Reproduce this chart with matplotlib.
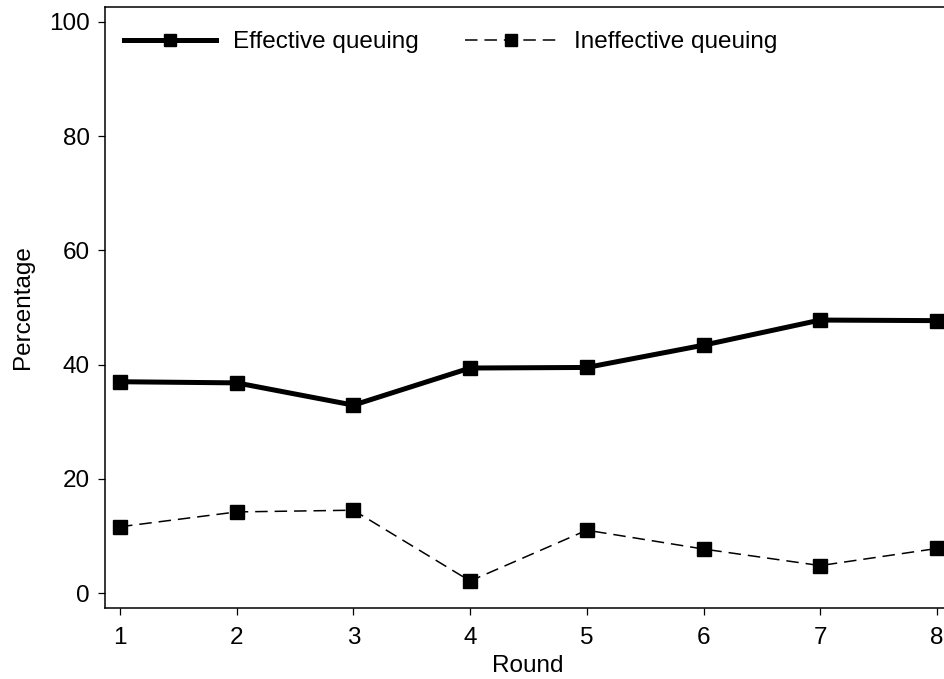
import matplotlib
matplotlib.use("Agg")
import matplotlib.pyplot as plt

plt.rcParams["font.family"] = ["Liberation Sans", "DejaVu Sans"]
plt.rcParams["lines.scale_dashes"] = False

rounds = [1, 2, 3, 4, 5, 6, 7, 8]
effective = [37.0, 36.8, 32.9, 39.4, 39.5, 43.4, 47.8, 47.7]
ineffective = [11.6, 14.2, 14.5, 2.1, 11.0, 7.7, 4.8, 7.8]
yticks = [0, 20, 40, 60, 80, 100]

FS = 17.5
W, H = 944, 679
fig = plt.figure(figsize=(W / 100, H / 100), dpi=100)
# axes run past the right edge, as in the original export
left, right, bottom, top = 105, 951, 608, 7
ax = fig.add_axes([left / W, 1 - bottom / H, (right - left) / W, (bottom - top) / H])

ax.plot(rounds, effective, color="black", lw=3.6, marker="s", ms=10.5,
        label="Effective queuing")
ax.plot(rounds, ineffective, color="black", lw=1.1, linestyle=(0, (9, 5)),
        marker="s", ms=10.5, label="Ineffective queuing")

px_x = 116.7
ax.set_xlim(1 - (120 - left) / px_x, 1 + (right - 120) / px_x)
px_y = 5.71
ax.set_ylim(-(bottom - 593) / px_y, 100 + (22 - top) / px_y)

ax.set_xticks(rounds)
ax.set_yticks(yticks)
ax.tick_params(direction="out", length=5, width=0.9, labelsize=FS)
ax.tick_params(axis="x", pad=9)
ax.tick_params(axis="y", pad=6)
ax.spines["right"].set_visible(False)
for side in ("left", "bottom", "top"):
    ax.spines[side].set_linewidth(1.1)

ax.set_xlabel("Round", fontsize=FS, labelpad=4)
ax.set_ylabel("Percentage", fontsize=FS, labelpad=11)

ax.legend(loc="upper left", bbox_to_anchor=(0.005, 0.984), ncol=2, frameon=False,
          fontsize=FS, handlelength=3.8, handletextpad=0.7, columnspacing=1.9,
          borderaxespad=0.2, numpoints=1, markerscale=0.85)

fig.savefig("out.png", dpi=100)
